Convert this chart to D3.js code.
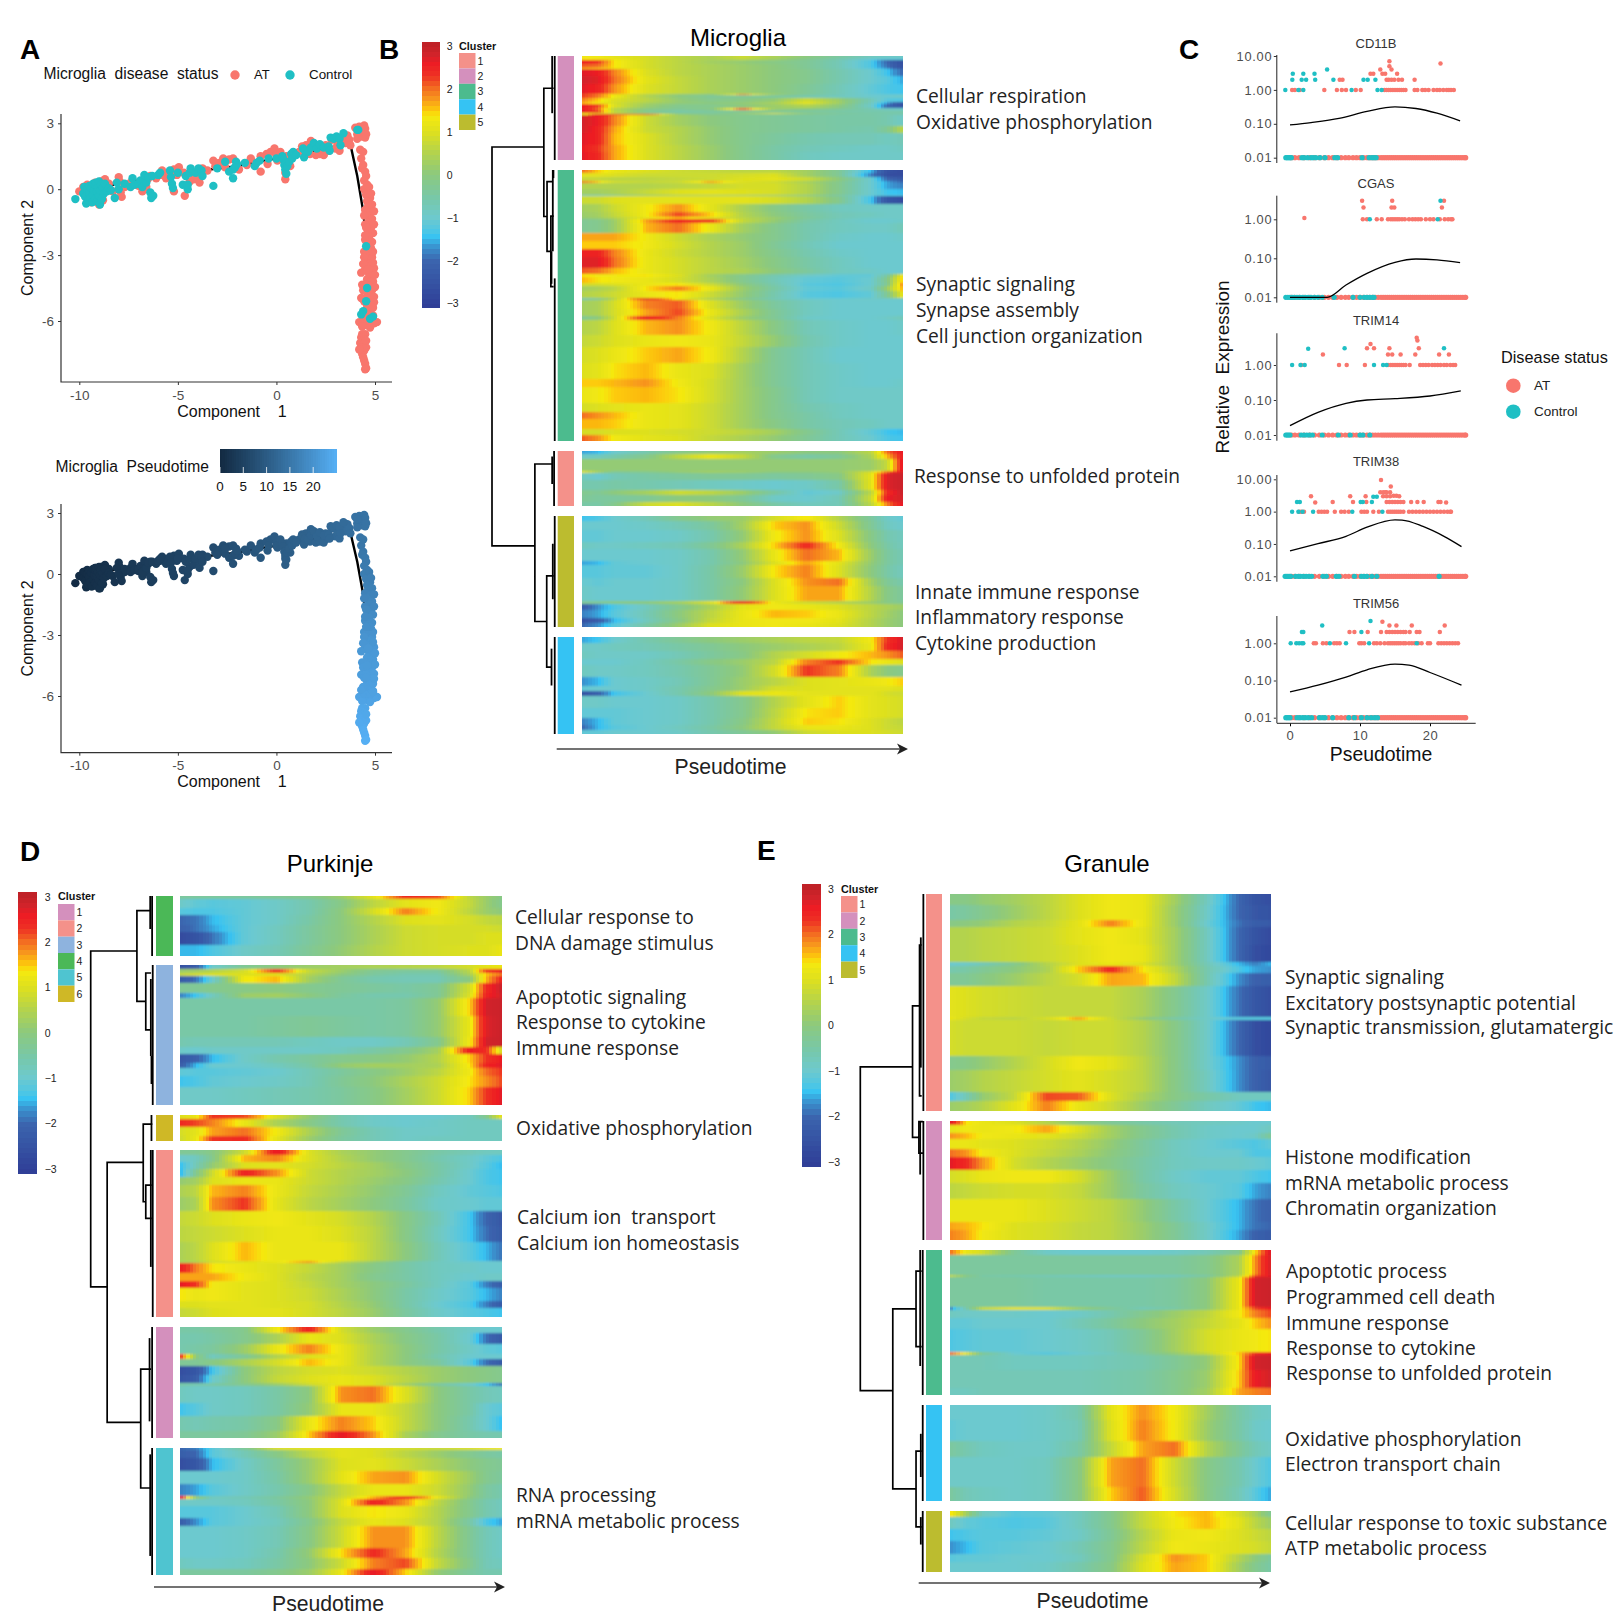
<!DOCTYPE html>
<html><head><meta charset="utf-8">
<script src="https://cdn.jsdelivr.net/npm/d3@7"></script>
<style>html,body{margin:0;padding:0;background:#fff}svg{display:block}text{font-family:"Liberation Sans",Arial,sans-serif}</style>
</head><body><svg id="fig" width="1619" height="1614" viewBox="0 0 1619 1614"></svg>
<script>
// ---------- Panel A: cells as [component1, component2, pseudotime] ----------
const cellsAT=[[-10,-.1,.3],[-9.8,.1,.5],[-9.6,.2,.8],[-9.4,-.6,.9],[-9.2,.3,1.1],[-9,-.7,1.2],[-8.9,.35,1.4],[-8.8,-.5,1.4],[-8.7,.45,1.5],[-8.5,.25,1.7],[-8.3,-.1,1.9],[-8,.55,2.2],[-7.95,.35,2.3],[-7.9,-.15,2.3],[-7.85,-.35,2.4],[-7.7,.1,2.5],[-7.4,.3,2.8],[-7,.15,3],[-6.8,-.1,3.3],[-6.6,.1,3.5],[-6.5,.5,3.5],[-6.4,.6,3.6],[-6.1,.5,3.9],[-5.9,.65,4],[-5.8,.85,4.1],[-5.6,.5,4.3],[-5.5,.65,4.4],[-5.2,.9,4.7],[-5.2,-.1,4.7],[-5.05,.65,4.9],[-4.95,1,4.9],[-4.7,.75,5.2],[-4.65,-.3,5.2],[-4.4,.35,5.4],[-4.2,.45,5.6],[-3.9,.6,5.9],[-3.9,.3,5.9],[-3.75,.95,6],[-3.5,.85,6.3],[-3.1,1.05,6.6],[-3.2,1.3,6.5],[-2.9,1.2,6.9],[-2.7,1.4,7],[-2.6,1,7.1],[-2.4,1.35,7.3],[-2.2,1.4,7.5],[-2,1.05,7.7],[-1.9,.9,7.8],[-1.5,1.1,8.2],[-1.3,1.4,8.4],[-1.05,1.2,8.6],[-.8,1.5,8.9],[-.8,.8,8.9],[-.5,1.6,9.1],[-.45,1.15,9.2],[-.3,1.7,9.3],[-.1,1.85,9.5],[0,1.55,9.6],[.05,1.3,9.7],[.2,1.7,9.8],[.45,.45,10],[.45,.75,10],[.5,1.5,10.1],[.7,1.05,10.3],[.9,1.6,10.5],[1.15,1.7,10.7],[1.3,1.95,10.8],[1.5,2,11],[1.7,1.6,11.2],[1.75,2.2,11.2],[2,1.55,11.4],[2.2,1.6,11.6],[2.4,1.55,11.7],[2.5,2,11.8],[2.65,1.75,12],[2.8,2.25,12.1],[3,1.85,12.3],[3.1,2.05,12.4],[3.2,1.75,12.5],[3.35,2.3,12.6],[3.5,2.1,12.8],[3.6,2.45,12.9],[3.7,2.25,13],[3.75,2,13.1],[4,2.8,14],[4.1,2.5,14],[4.2,2.85,14],[4.3,2.4,14.1],[4.4,2.6,14.1],[4.45,2.9,14.1],[4.5,2.35,14.2],[4.5,2.75,14.2],[4.55,2.5,14.2],[4.1,2.3,14],[4.25,1.8,14.5],[4.3,1.4,14.7],[4.4,1.7,14.6],[4.4,1.1,14.9],[4.35,.95,15],[4.5,.8,15.2],[4.55,.6,15.4],[4.45,.4,15.5],[4.6,.2,15.7],[4.45,0,15.9],[4.65,-.1,16],[4.55,-.25,16.2],[4.75,-.4,16.3],[4.6,-.55,16.4],[4.85,-.7,16.6],[4.65,-.8,16.7],[4.5,-.95,16.9],[4.75,-1.05,17.1],[4.6,-1.2,17.3],[4.85,-1.35,17.5],[4.7,-1.5,17.7],[4.5,-1.6,17.8],[4.8,-1.75,18],[4.65,-1.9,18.2],[4.9,-2,18.4],[4.7,-2.15,18.6],[4.5,-2.3,18.8],[4.85,-2.4,18.9],[4.65,-2.5,19],[4.8,-2.7,19.4],[4.45,-2.85,19.6],[4.7,-2.95,19.8],[4.85,-3.1,20.1],[4.6,-3.25,20.3],[4.75,-3.4,20.4],[4.95,-3.6,20.6],[4.5,-3.65,20.6],[4.3,-3.8,20.7],[4.7,-3.85,20.8],[4.85,-3.95,20.9],[4.6,-4.1,21],[4.8,-4.2,21],[4.35,-4.35,21.1],[4.5,-4.35,21.1],[4.7,-4.5,21.2],[4.85,-4.6,21.3],[4.6,-4.7,21.4],[4.8,-4.85,21.4],[4.3,-4.95,21.5],[4.65,-5,21.5],[4.8,-5.15,21.6],[4.6,-5.3,21.8],[4.75,-5.4,21.9],[4.55,-5.55,22],[4.7,-5.7,22.1],[4.9,-5.75,22.2],[4.6,-5.9,22.3],[5.1,-6.05,22.5],[4.2,-6.05,22.5],[4.4,-6.1,22.5],[4.8,-6.1,22.6],[4.95,-6.1,22.6],[4.6,-6.2,22.6],[4.35,-6.25,22.7],[4.5,-6.6,23.1],[4.35,-6.6,23.1],[4.3,-6.75,23.3],[4.45,-6.85,23.4],[4.25,-7,23.5],[4.4,-7.05,23.6],[4.3,-7.2,23.7],[4.45,-7.35,23.9],[4.35,-7.5,24],[4.4,-7.65,24.1],[4.45,-7.8,24.3],[4.5,-7.95,24.4],[4.55,-8.15,24.6],[4.5,-8.2,24.6],[4.45,-1.2,17.2],[4.55,-1.75,18],[4.5,-2.1,18.5],[4.55,-2.9,19.7],[4.9,-2.85,19.7],[4.55,-3.5,20.5],[4.45,-3.1,20],[4.4,-4.6,21.3],[4.5,-5.6,22],[4.45,-5.1,21.6],[4.9,-4.2,21],[4.95,-4.9,21.5],[4.9,-5.4,21.9],[4.7,-6,22.4],[4.55,-4.95,21.5],[4.7,.1,15.8],[4.8,-.2,16.2],[4.95,-1,17.1],[4.95,-1.6,17.8],[4.75,-2.6,19.2],[4.9,-3.35,20.3],[5,-3.9,20.9],[4.75,-4.4,21.1],[5,-4.45,21.2],[4.4,-3.4,20.4],[4.65,-3.65,20.7],[4.95,-5.15,21.7],[4.45,-5.9,22.3],[4.75,-6.3,22.7],[4.55,-7.2,23.7],[4.2,-7.3,23.8],[4.55,-6.9,23.4]];
const cellsControl=[[-10.2,-.45,.1],[-9.8,-.2,.5],[-9.75,.1,.5],[-9.7,-.35,.6],[-9.65,-.65,.6],[-9.6,0,.7],[-9.55,-.5,.8],[-9.5,.15,.8],[-9.5,-.15,.8],[-9.45,-.4,.9],[-9.4,.05,.9],[-9.35,-.6,1],[-9.3,.25,1],[-9.3,-.25,1],[-9.25,-.05,1.1],[-9.2,.2,1.1],[-9.2,-.45,1.1],[-9.15,.3,1.2],[-9.1,-.1,1.2],[-9.1,-.55,1.2],[-9.05,.1,1.3],[-9,.35,1.3],[-9,-.3,1.3],[-8.95,-.05,1.3],[-8.95,-.7,1.4],[-8.9,.2,1.4],[-8.85,-.45,1.4],[-8.8,.05,1.5],[-8.75,-.2,1.5],[-8.7,.25,1.5],[-8.6,-.1,1.6],[-8.5,.05,1.7],[-8.4,-.05,1.8],[-8.2,-.4,2],[-8.1,.3,2.1],[-8,0,2.2],[-7.7,.25,2.5],[-7.4,.1,2.8],[-7.3,.5,2.9],[-7.2,.2,3],[-7,.25,3.1],[-6.9,.4,3.2],[-6.8,.1,3.3],[-6.7,.65,3.4],[-6.6,.3,3.5],[-6.5,.55,3.6],[-6.4,-.15,3.7],[-6.35,-.4,3.7],[-6.25,-.3,3.8],[-6.3,.6,3.7],[-6,.65,4],[-5.9,.75,4.1],[-5.4,.85,4.6],[-5.35,.55,4.6],[-5.3,.25,4.7],[-5.25,.05,4.7],[-5,.75,5],[-4.75,.2,5.2],[-4.5,0,5.4],[-4.5,.2,5.4],[-4.6,.6,5.3],[-4.4,.75,5.5],[-4.35,.95,5.5],[-4.1,.75,5.8],[-3.95,.95,5.9],[-3.8,.85,6],[-3.75,.6,6],[-3.2,.15,6.5],[-3,.95,6.7],[-2.6,1.25,7.1],[-2.4,.8,7.3],[-2.2,.5,7.5],[-2.2,.9,7.5],[-2.1,1,7.6],[-2.05,1.25,7.7],[-2,1.15,7.7],[-1.6,1.2,8.1],[-1.1,1.05,8.6],[-1,1.2,8.7],[-.85,1.3,8.8],[-.4,1.4,9.2],[0,1.4,9.6],[.3,1.5,9.9],[.35,1.35,9.9],[.4,1.1,10],[.45,.9,10],[.5,.7,10.1],[.55,1.05,10.1],[.65,1.25,10.2],[.75,1.6,10.3],[.8,1.4,10.4],[.85,1.7,10.4],[1,1.55,10.6],[1.35,1.85,10.9],[1.4,1.45,10.9],[1.45,1.75,11],[1.6,1.7,11.1],[1.75,1.9,11.2],[1.9,2.1,11.3],[2.05,1.85,11.5],[2.2,2.05,11.6],[2.4,1.9,11.8],[2.65,1.95,12],[2.7,1.75,12],[2.75,2.35,12.1],[2.9,2.3,12.2],[3.05,2.4,12.3],[3.2,2.3,12.5],[3.4,2.55,12.7],[3.25,2,12.5],[4.15,2.7,14],[4.1,2.7,14],[4.55,-2.6,19.2],[4.6,-4.5,21.2],[4.55,-5.1,21.6],[4.4,-5.55,22],[4.3,-5.7,22.1],[4.75,-5.9,22.3],[4.9,-5.8,22.2]];
const trajectory=[[-9.5,0],[-7,.4],[-3.8,.85],[-2,1.05],[0,1.4],[3.75,2.05],[4.1,.6],[4.4,-1],[4.55,-2.3],[4.65,-3.5],[4.65,-5]];
const compXTicks=[-10,-5,0,5], compYTicks=[3,0,-3,-6], ptLegendTicks=[0,5,10,15,20];

// ---------- Panel C ----------
const pseudoXTicks=[0,10,20];
const zeroRowAT=[.2,.7,1.3,2,2.8,3.5,4.2,4.9,5.5,6.1,6.7,7.3,7.9,8.4,9,9.5,10,10.5,11,11.4,11.8,12.2,12.6,13,13.3,13.6,13.9,14.2,14.5,14.8,15.1,15.4,15.7,16,16.3,16.6,16.9,17.2,17.5,17.8,18.1,18.4,18.7,19,19.3,19.6,19.9,20.2,20.5,20.8,21.1,21.4,21.7,22,22.3,22.6,22.9,23.2,23.5,23.8,24.1,24.4,24.7,25,25.1];
const cd11bZero=[-.6,-.4,-.2,0,.2,1.7,2,2.5,3,3.3,3.7,4.3,5,6.4,6.8,10.3,11.3,11.7,12,12.3];
const cd11bControl=[[-.67,1],[.4,3],[.33,2],[1.67,2],[2.3,2],[1.9,3],[3.5,3],[3.6,2],[5.3,4],[6.2,2],[10.5,2],[11.1,2],[12.2,2],[1.9,1],[1.2,1],[8.8,1],[12.5,1],[13.1,1]];
const cd11bAT=[[.3,1],[.7,1],[1.4,1],[4.9,1],[6.7,1],[7.4,1],[8,1],[9.4,1],[10.1,1],[7.1,2],[7.5,2],[11.5,3],[11.9,3],[12.9,4],[13.2,3],[13.6,3],[14.2,7],[14.2,5],[14.5,4],[15.3,3],[17.8,2],[21.5,6],[13.8,2],[14.1,2],[14.5,2],[14.9,2],[15.5,2],[16,2],[13.5,1],[13.8,1],[14.1,1],[14.4,1],[14.7,1],[15,1],[15.3,1],[15.6,1],[15.9,1],[16.2,1],[16.5,1],[17.8,1],[18.2,1],[18.9,1],[19.3,1],[19.8,1],[20.5,1],[21,1],[21.4,1],[21.9,1],[22.4,1],[22.7,1],[23,1],[23.4,1]];
const cd11bCurve=[[0,.093],[3,.109],[7,.144],[11,.232],[15,.317],[18,.283],[21,.206],[24.3,.122]];
const cgasZero=[-.6,-.3,0,.3,.6,1,1.4,1.8,2.2,2.6,3,3.5,4,4.6,6.3,9,10,10.6,11,11.4,11.8,12];
const cgasControl=[[11.4,1],[21.1,1],[21.5,3]];
const cgasAT=[[2.05,1.08],[10.3,3],[10.5,2],[10.4,1],[11,1],[12.4,1],[13.1,1],[14,1],[14.4,1],[14.7,1],[15,1],[15.3,1],[15.6,1],[16,1],[16.4,1],[17,1],[17.5,1],[17.9,1],[18.3,1],[18.7,1],[19.4,1],[20,1],[20.5,1],[21.4,1],[22.1,1],[22.6,1],[23,1],[23.2,1],[14.6,3],[14.5,2],[14.9,2],[22,3],[21.7,2]];
const cgasCurve=[[0,.01],[5.3,.01],[8,.0207],[11,.0412],[15,.0789],[18,.096],[21,.091],[24.3,.0772]];
const trim14Zero=[-.6,-.4,-.2,0,1.6,2,2.4,2.8,3.2,4.6,6.9,8.6,10,10.4,11.4];
const trim14Control=[[.3,1],[1.5,1],[2.1,1],[2.6,2.9],[7.8,3],[12,1],[13.3,1],[13.8,1],[22,3]];
const trim14AT=[[1.6,1],[4.7,2],[7,1],[8.1,1],[10.7,1],[11,3],[11.5,4],[12,3],[14.2,3],[14,2],[14.6,2],[15.8,2],[17.9,2],[18.4,3],[18.1,6],[18.2,5],[21.3,2],[22.7,2],[14,1],[14.4,1],[14.7,1],[15,1],[15.3,1],[15.6,1],[15.9,1],[16.2,1],[16.5,1],[17.1,1],[18.6,1],[19,1],[19.4,1],[19.8,1],[20.3,1],[20.7,1],[21.1,1],[21.5,1],[22,1],[22.4,1],[22.9,1],[23.3,1],[23.6,1]];
const trim14Curve=[[0,.0185],[4,.0444],[8,.0803],[11,.1],[15,.109],[20,.13],[24.4,.181]];
const trim38Zero=[-.7,-.5,-.3,-.1,.1,.8,1.2,1.5,1.9,2.3,2.7,3.1,4.7,5.2,6.6,7,9.2,10.2,10.6,11,11.7,12.4,21.3];
const trim38Control=[[.3,1],[1.2,1],[1.8,1],[1,2],[1.4,2],[3.3,1],[8.9,1],[10.1,2],[10.4,2],[11.7,2],[11.9,2.9],[12.4,2.9],[13.2,1]];
const trim38AT=[[3,3],[3.6,1.9],[6.1,2],[8.6,3],[9,2],[10.8,3],[10.9,2],[13,9.5],[14.4,6],[12.9,4],[13.3,4],[13.6,4],[13.8,4],[14.3,4],[13.3,3],[13.8,3],[14.3,3],[14.8,3.1],[15.2,3.1],[15.6,3],[13.8,2],[14.2,2],[14.6,2],[15,2],[15.4,2],[15.8,2],[16.2,2],[17.3,2],[18.2,2],[19.1,2],[21.2,2],[21.5,2],[22.3,1.9],[1.3,1],[1.6,1],[2,1],[4.1,1],[4.5,1],[4.9,1],[5.3,1],[6.4,1],[7.3,1],[7.8,1],[8.4,1],[10.2,1],[10.6,1],[11,1],[11.9,1],[12.7,1],[14,1],[14.3,1],[14.6,1],[14.9,1],[15.2,1],[15.5,1],[15.8,1],[16.2,1],[17,1],[17.5,1],[18,1],[18.5,1],[19,1],[19.5,1],[20,1],[20.5,1],[21,1],[21.5,1],[22,1],[22.5,1],[22.9,1],[23,1]];
const trim38Curve=[[0,.061],[4,.102],[8,.172],[11,.33],[15,.556],[16,.55],[19,.348],[22,.172],[24.5,.083]];
const trim56Zero=[-.6,-.4,-.2,0,1,1.4,1.8,2.2,2.6,3.1,4.2,4.6,5,6.1,8.4,9.2,10.2,11,11.6,12.1,12.5];
const trim56Control=[[.1,1],[.9,1],[1.3,1],[1.7,1],[1.9,1],[1.7,2],[1.9,2],[4.6,3],[5.7,1],[8,1],[10.2,2],[11.5,4],[11.3,1],[18.1,1]];
const trim56AT=[[8.5,2],[9.2,2],[11.1,2],[13,2],[13.2,3.8],[14.2,3],[15.2,3],[17.4,3],[22.1,3],[21.4,2],[17.1,2],[18.1,2],[18.5,2],[13.8,2],[14.2,2],[14.6,2],[15,2],[15.4,2],[15.8,2],[16.2,2],[16.5,2],[3.4,1],[3.7,1],[4.7,1],[5.2,1],[6.3,1],[6.7,1],[7.1,1],[9.9,1],[10.2,1],[10.6,1],[12,1],[12.4,1],[12.9,1],[13.5,1],[14,1],[14.3,1],[14.6,1],[14.9,1],[15.2,1],[15.5,1],[15.8,1],[16.2,1],[16.5,1],[17,1],[17.4,1],[17.8,1],[18.3,1],[18.8,1],[19.7,1],[20,1],[21.2,1],[21.6,1],[22,1],[22.4,1],[22.8,1],[23.2,1],[23.6,1],[24,1]];
const trim56Curve=[[0,.0494],[4,.0748],[8,.123],[11,.194],[15,.276],[17,.26],[20,.164],[24.5,.0748]];

// ---------- Heatmaps: each row = [genes in band, z-score at pseudotime fractions in heatKnots] ----------
const heatKnots=[0,.05,.1,.2,.3,.4,.5,.6,.7,.8,.9,.95,1];
const microglia1=[[1.5,1.3,1.3,1.1,.9,.6,.4,.8,.4,0,-.4,-.8,-.9,-.9],[2.5,1.4,1.3,1.2,.9,.6,.4,.7,.3,-.2,-.6,-1,-1.1,-1.1],[3.5,2.6,2.3,1.4,.9,.6,.3,.1,-.1,-.3,-.7,-1.3,-2,-2.6],[3,2.1,2,1.4,.9,.6,.4,.2,0,-.3,-.7,-1.3,-1.9,-2.6],[1.5,1.5,1.4,1.2,.9,.6,.4,.2,0,-.3,-.7,-1.2,-1.6,-2.4],[6,2.7,2.6,1.9,1,.6,.4,.2,0,-.2,-.6,-1,-1.4,-2],[7,2.8,2.7,2,1.1,.7,.4,.2,0,-.2,-.6,-1,-1.2,-1.6],[9,2.7,2.5,1.8,1,.7,.4,.2,0,-.3,-.7,-1.1,-1.3,-1.4],[1,2.2,1.8,1.2,.5,0,-.1,1.9,.3,-.3,-.7,-1,-1.1,-1.1],[3,2.3,2,1.3,.5,0,-.3,-.3,-.4,-.6,-.8,-1,-1,-.9],[3,1.9,1.5,1,.6,.1,-.2,-.1,.1,.8,.2,-.7,-1.2,-1.3],[2,1.6,1.3,.9,.4,.1,0,.1,.4,1.2,.3,-.8,-1.6,-2.4],[4,2.6,2.2,1,.2,-.2,-.2,0,.2,.5,0,-.9,-2,-2.5],[1.3,2.6,2,.5,-.1,-.3,-.1,2.1,.2,0,-.3,-.6,-.9,-1],[2.5,2.7,2.2,.7,-.2,-.5,-.4,-.3,-.3,-.4,-.5,-.6,-.6,-.6],[1.2,1.1,.9,.5,.1,-.3,-.3,.2,1.1,.1,-.3,-.4,-.5,-.5],[1,.9,2.6,2.6,2.5,.2,-.3,-.3,-.3,-.4,-.5,-.6,-.6,-.6],[10,2.8,2.6,1.9,.8,.3,0,-.2,-.3,-.4,-.5,-.5,-.6,-.9],[6,2.8,2.5,1.7,.8,.5,.1,-.2,-.3,-.4,-.5,-.6,-.3,.6],[11,2.7,2.5,1.6,1,.5,.1,-.2,-.4,-.6,-.7,-.7,-.8,-.7],[6,2.6,2.3,1.7,1,.6,.2,-.2,-.5,-.7,-.8,-.9,-.9,-.8],[7.5,2.7,2.4,1.7,1,.6,.2,-.2,-.5,-.8,-.9,-.9,-.9,-.9]];
const microglia2=[[3,2,1.5,1.2,1,.8,.7,.6,.6,.3,-.3,-1.5,-2.5,-2.7],[4,1.1,1.1,1,.8,.8,.8,.9,1,.3,-.3,-1.8,-2.6,-2.7],[4,.7,.7,.6,.6,.7,.8,1,1.1,.8,0,-1,-2,-2.4],[1.2,2,1.5,.9,.7,.8,1.7,1,.8,.3,-.2,-1,-1.6,-2],[6,.5,.5,.5,.5,.6,.7,.9,.9,.5,-.2,-1,-1.6,-1.8],[6,.3,.3,.4,.7,1,1.1,1,.9,.5,-.2,-1,-1.4,-1.5],[1.5,-1,-.9,-.6,0,.2,.2,.1,0,-.3,-.6,-1,-1.2,-1.2],[7.5,.8,.8,1,1.1,1.1,1.1,1.1,.9,.5,-.2,-1.4,-2.4,-2.7],[8,.3,.4,.8,1.3,1.8,1.1,.4,-.1,-.5,-.8,-.9,-.9,-.9],[5,.2,.3,.7,1.3,2.2,1.5,.5,0,-.4,-.7,-.8,-.9,-.9],[2,.1,.2,.5,1.1,1.6,1,.6,.2,-.3,-.7,-.9,-.9,-.9],[3,-.3,-.2,.2,1.7,2.5,2.3,.7,.1,-.5,-.8,-1,-1,-.9],[10,-.3,-.2,.2,1.6,2,1.2,.3,-.2,-.6,-.8,-.9,-.9,-.7],[8,1.7,1.7,1.7,1.3,.8,.4,.1,-.2,-.6,-.9,-1,-1,-.9],[8,1.5,1.5,1.5,1.3,.9,.5,.2,-.3,-.7,-1,-1,-1,-1],[8,2.5,2.5,1.9,1.2,.8,.5,.2,-.2,-.6,-.9,-1,-1,-1],[10,2.7,2.7,2,1.2,.9,.6,.3,-.1,-.5,-.8,-1,-1,-1],[6,2.1,2,1.6,1.2,.9,.6,.4,0,-.4,-.8,-.9,-1,-1],[3,1.4,1.3,1.3,1.4,1,.3,-.2,-.6,-.9,-1.1,-1.1,-.5,1.3],[6,1.6,1.4,1.3,1.2,.9,.4,-.2,-.7,-1.1,-1.2,-1,-.2,1.6],[3,.9,.9,1,1.2,1.4,.8,0,-.6,-1.2,-1.3,-1,-.3,2],[5,.3,.4,.6,1.4,1.9,1.2,.2,-.5,-1.1,-1.2,-.9,.2,1.7],[7,.5,.6,.8,1.2,1.4,.8,.1,-.6,-1.2,-1.3,-1.1,-.3,1.2],[2,-.7,-.4,.5,2.8,1.2,.4,-.2,-.7,-1,-1,-.9,-.9,-.9],[8,.3,.4,.9,1.9,2.1,1,.2,-.4,-.8,-1,-1,-1,-1],[7,.3,.4,.9,1.7,2.2,1.2,.4,-.3,-.8,-1,-1,-1,-1],[4,-.3,0,.8,2.7,1.9,1,.2,-.3,-.9,-1,-1,-.9,-.7],[15,.5,.6,1,1.6,1.8,1.3,.6,-.1,-.7,-.9,-1,-1,-.9],[11,.7,.8,1,1.2,1.3,1.2,.7,.1,-.6,-.9,-1,-1,-1],[16,.9,1,1.2,1.5,1.7,1.3,.5,-.3,-.7,-1,-1,-1,-1],[16,1,1.1,1.4,1.6,1.2,1,.3,-.3,-.7,-.9,-1,-1,-1],[7,1.5,1.5,1.6,1.8,1.3,.9,.3,-.3,-.7,-.9,-1,-1,-.9],[16,1.2,1.3,1.5,1.6,1.4,.9,.3,-.2,-.7,-.9,-.9,-.9,-.9],[9,.9,1,1.1,1.2,1.1,.8,.3,-.2,-.6,-.8,-.9,-.9,-.9],[7,2,1.8,1.6,1.2,1.1,.8,.3,-.2,-.5,-.8,-.9,-.9,-.9],[9,1.6,1.6,1.5,1.2,1.1,.8,.3,-.1,-.5,-.7,-.8,-.9,-.9],[6,.9,.9,1,1,.9,.8,.6,.3,-.2,-.7,-1.1,-1.4,-1.5],[6,2.1,1.8,1.3,1.1,1,.7,.4,.1,-.3,-.7,-1,-1.3,-1.4]];
const microglia3=[[3,-1.6,-1.5,-1,-.6,-.2,.1,.3,.2,0,0,.6,2,2.7],[5,-.9,-.8,-.6,-.2,.6,1.2,.7,-.2,-.5,-.3,.4,1.6,2.6],[11,.1,.1,.1,.1,.1,.1,.1,.1,.1,.1,.2,.7,2.8],[2,1.2,.4,-.3,-.2,.1,.3,.2,0,0,.1,.9,2,2.8],[7,-.8,-1,-.7,-.5,-.4,-.3,-.3,-.4,-.3,-.1,1.1,2.7,2.9],[10,-.6,-.6,-.5,-.6,-.7,-.8,-.9,-1,-.9,-.5,1.1,2.7,2.9],[4,-.2,-.3,0,.3,.8,.6,.2,-.5,-1.1,-.9,.6,2.4,2.9],[7,-.3,-.4,-.4,-.3,0,0,-.3,-.9,-1,-.7,.8,2.6,2.8],[4,-.5,-.5,-.2,.8,1,.6,0,-.5,-.8,-.7,.6,1.9,2.7]];
const microglia4=[[5,-1.4,-1.3,-1,-.7,-.2,.1,.2,.9,1.4,.5,-.4,-.9,-1.1],[9,-1,-1,-1,-.9,-.7,-.4,.3,1.5,1.8,.8,-.3,-.8,-1],[12,-1.1,-1.1,-1,-1,-.9,-.6,.1,1.3,1.8,1,-.1,-.6,-.8],[6,-.8,-.9,-.9,-.8,-.7,-.3,.4,1.5,2.4,1.3,0,-.5,-.8],[12,-1,-1,-1,-1,-.9,-.6,.1,1.2,2,1.6,.2,-.4,-.7],[4,-1.6,-1.5,-1.1,-1,-.9,-.6,0,1,1.7,1.1,.1,-.4,-.7],[13,-1.2,-1.2,-1.1,-1.1,-.9,-.5,.2,1.4,1.9,1,0,-.5,-.8],[8,-1,-1.1,-1,-1,-.9,-.5,0,1,1.8,2,.3,-.3,-.6],[14,-.9,-1,-1,-1,-.9,-.5,.1,1,1.7,1.7,.5,-.1,-.4],[3,-.3,-.3,-.1,0,.3,1,2.7,1.2,.8,.5,.2,-.1,-.3],[6,-2.2,-1.7,-1.3,-.8,-.2,.4,1.1,1.3,1.2,1,.6,.4,.2],[8,-1.8,-1.6,-1.2,-.7,0,.6,1.2,1.6,1.5,1.2,.6,.3,0],[5,-2.6,-2.2,-1.5,-.8,-.1,.7,1.2,1.3,1.3,1.1,.5,.2,0],[4,-2,-1.7,-1.2,-.5,.2,1,1.2,1.3,1.2,1,.5,.2,0]];
const microglia5=[[6,-1.6,-1.4,-1,-.6,-.3,0,.2,.4,.6,.7,1.3,2.3,2.8],[8,-.9,-.9,-.8,-.7,-.5,-.3,0,.2,.4,.6,1.2,2.4,2.8],[8,-.8,-.9,-.9,-.9,-.7,-.4,-.1,.5,.9,1.3,1.6,1.8,2.1],[6,-1,-1,-1,-.8,-.5,-.1,.2,.6,1.9,2.3,1.4,1.2,1],[12,-.8,-.9,-.9,-.8,-.6,-.3,.1,.9,2.3,1.9,.4,0,-.2],[8,-1.7,-1.5,-1,-.9,-.7,-.3,.2,.6,1,1.1,1.2,1.3,1.5],[5,-1.1,-1,-1,-.9,-.6,-.2,.2,.9,1,1.1,1.1,1.1,1],[5,-2.5,-2.1,-1.4,-1,-.6,0,1,1.2,1.1,1.1,1.1,.9,.8],[12,-.9,-.9,-1,-1,-.9,-.6,-.2,.5,1.1,1.5,1.1,1,.9],[10,-1.1,-1.1,-1.1,-1,-.9,-.6,-.2,.6,1.4,1.5,1.1,1,.9],[7,-1.8,-1.5,-1.1,-1,-.9,-.6,-.1,.7,1.5,1.4,1,.8,.6],[5,-2,-1.5,-1.2,-1,-.8,-.5,0,.7,1.2,1.2,1,.8,.7],[4,-1.1,-1.1,-1,-1,-.9,-.6,-.3,.1,.8,1,1,.9,.8]];
const purkinje1=[[3,-.4,-.4,-.4,-.4,-.3,-.2,.2,1.1,2.4,2.2,.6,.2,-.1],[9,-.9,-1.1,-1.2,-1.1,-.9,-.6,-.1,.6,1.1,1.3,.7,.2,-.2],[7,-1.2,-1.3,-1.3,-1.1,-.9,-.6,0,.9,1.9,1.3,.6,.2,0],[10,-2,-1.9,-1.5,-1.1,-.9,-.5,0,.5,1,1.1,.9,.7,.6],[7,-2.1,-1.9,-1.6,-1.1,-.8,-.4,0,.4,.8,.9,.9,.9,.8],[13,-2.7,-2.5,-1.9,-1.1,-.8,-.4,0,.4,.8,.9,.9,1,1],[11,-1.5,-1.5,-1.3,-.9,-.7,-.3,.1,.5,.8,.9,1,1,1.2]];
const purkinje2=[[4,-2.6,-2.2,-1,-.3,0,.2,.3,.4,.5,.6,.9,1.1,1.2],[4,.2,.3,.5,.9,2.4,.7,.2,-.3,-.4,-.4,.6,2.3,2.7],[3,.7,.9,1,1,1,.5,0,-.4,-.6,-.6,.4,1.5,2],[7,-2.3,-1.9,-1,1.3,1.6,.3,-.3,-.6,-.7,-.7,0,1.6,2.5],[9,-.3,-.3,-.2,-.1,0,-.2,-.3,-.4,-.5,-.3,.9,2.4,2.9],[5,-1.8,-1.4,-.8,.2,.3,0,-.4,-.6,-.6,-.3,1,2.5,2.8],[18,-.5,-.5,-.5,-.5,-.5,-.5,-.5,-.5,-.4,.1,1.5,2.8,2.9],[20,-.5,-.5,-.5,-.5,-.4,-.3,-.4,-.5,-.4,.1,1.2,2.7,2.9],[10,-.6,-.7,-.7,-.7,-.7,-.8,-.9,-.9,-.7,-.2,1.3,2.8,2.9],[7,-.9,-1,-.9,-.9,-.9,-.9,-.8,-.5,-.2,.3,2.6,2.4,.8],[9,-2.4,-2.1,-1.5,-.9,-.6,-.4,-.2,-.1,.1,.5,1.5,2.3,2.6],[5,-2.2,-1.5,-1,-1,-.8,-.5,.1,.3,.3,.4,1.4,2.5,2.7],[8,-1.1,-1.2,-1.2,-1.1,-1,-.7,-.4,-.1,.2,.6,1.3,2,2.3],[10,-1.4,-1.3,-1.1,-1,-.9,-.7,-.3,0,.4,.8,1.4,1.8,2.2],[18,-.9,-.9,-.9,-.8,-.7,-.6,-.4,-.1,.3,.8,1.5,2.3,2.7]];
const purkinje3=[[4,1,1.2,2.3,2.2,1,.1,-.6,-.9,-1,-1,-.8,-.2,1.2],[8,2.4,2.2,1.9,1.2,.4,-.1,-.6,-.9,-1,-.9,-.8,-.8,-.8],[9,.9,1.1,1.7,2,1.3,.4,-.3,-.7,-.9,-.9,-.8,-.8,-.8],[5,.8,1.2,2.3,2.4,1.1,.2,-.4,-.7,-.9,-.8,-.8,-.8,-.8]];
const purkinje4=[[5,-.3,-.3,-.1,.8,2.7,1,.4,.1,-.2,-.5,-.7,-.8,-.8],[8,-1,-.8,-.2,1.6,1.9,1,.5,.1,-.2,-.6,-.9,-1.1,-1.3],[7,-1.5,-.7,.1,1,1.1,.9,.6,.3,-.1,-.5,-.9,-1.2,-1.5],[8,-1.6,-.2,.8,2.5,1.8,.8,.5,.3,0,-.5,-1,-1.3,-1.4],[8,.1,.3,1,1.2,1.2,.8,.5,.2,-.1,-.6,-1,-1.3,-1.4],[13,.4,.6,1.6,1.9,1.2,.7,.4,.1,-.3,-.8,-1.1,-1.2,-1.3],[15,.2,.4,1.8,2.3,1.1,.6,.3,0,-.4,-.9,-1,-1.1,-1.1],[15,.7,.8,1,1.2,1.3,1.1,.9,.5,-.1,-.7,-1.4,-2,-2.4],[17,.6,.7,.8,1,1.2,1.2,1,.6,-.1,-.8,-1.4,-1.9,-2.3],[20,.4,.6,1,1.6,1.2,1.2,1.2,.6,0,-.7,-1.2,-1.5,-1.9],[2,.3,.4,.8,1,1.2,1.8,.7,.1,-.5,-.8,-1,-1,-1],[10,2.6,1.9,1.4,1.2,1,.7,.3,-.1,-.5,-.8,-.9,-1,-1],[8,1.7,1.7,1.7,1.3,1,.6,.3,-.2,-.5,-.8,-1,-.9,-.9],[8,2.7,2.3,1.3,1.1,1,.7,.3,0,-.4,-.8,-1.2,-1.8,-2.2],[13,1.4,1.2,1.3,1.1,1,.8,.4,0,-.5,-.9,-1.2,-1.5,-1.8],[8,1,1,1.1,1.1,1,.9,.5,.1,-.5,-1,-1.3,-1.8,-2.3],[9,.7,.8,1,1.1,1.1,.9,.6,.2,-.4,-.9,-1.2,-1.3,-1.4]];
const purkinje5=[[6,-.5,-.5,-.4,-.2,1.3,2.5,.9,.2,-.2,-.6,-.9,-1,-1],[11,-.6,-.6,-.5,-.2,.4,1.2,1,.4,-.1,-.5,-1,-1.9,-2.3],[10,-.6,-.5,-.4,.2,1.2,1.9,1.2,.5,0,-.5,-.9,-1.1,-1.2],[4,2.4,0,-.8,-.3,.5,1,1.2,.5,0,-.6,-1,-1,-1],[7,-.3,-.3,-.1,.4,.9,1.6,1.2,.5,0,-.4,-1.2,-1.9,-2.3],[9,-2.6,-2.4,-1.4,0,.6,.9,1,.8,.5,.2,0,-.1,-.2],[8,-2.5,-2.2,-1,0,.7,1,1.2,1,.6,.2,0,-.1,-.2],[3,-.5,-.6,-.5,-.2,.2,.8,1.2,1,.3,-.4,-.9,-1.4,-1.9],[17,-.8,-.9,-.9,-.8,-.5,0,1.8,2,1,0,-.5,-.7,-.8],[12,-1.4,-1.2,-.9,-.8,-.5,.1,1.2,1.2,.7,0,-.5,-1,-1.2],[15,-.6,-.7,-.6,-.5,-.1,1.2,1.9,1.5,.7,0,-.6,-1,-1.5],[7,-.4,-.4,-.4,-.3,.2,1.5,2.7,1.8,.4,-.2,-.5,-.6,-.6]];
const purkinje6=[[2,-2,-1.8,-1.2,-.3,1,1.1,1.1,1,.9,.8,1,1.2,1.3],[8,-2.2,-2,-1.2,-.7,-.1,.6,1.1,1,.6,.2,-.2,-.4,-.5],[13,-2.6,-2.4,-1.5,-.9,-.4,.2,1,1.1,.8,.4,0,-.2,-.3],[13,-1,-1,-1,-.9,-.5,.2,1.1,1.7,1.8,.9,.2,-.2,-.4],[12,-1.8,-1.6,-1.2,-.9,-.6,-.1,.7,1.2,1.2,.8,.1,-.4,-.6],[3,2.6,.2,-.8,-.7,-.4,.1,.8,1.6,2.6,1.2,0,-.4,-.6],[7,-.9,-.9,-.9,-.8,-.5,0,1,2.5,1.8,.6,-.2,-.6,-.8],[12,-1.2,-1.2,-1.2,-1,-.7,0,1,1.4,1.2,.5,-.2,-.6,-.8],[8,-2.2,-1.7,-1.2,-1,-.8,-.2,.7,1.2,1,.5,-.5,-1.3,-1.6],[22,-1,-1,-1,-.9,-.7,-.1,.8,1.8,1.8,.6,-.3,-.7,-.9],[10,-1,-1,-1,-.9,-.6,.1,1.4,2.4,1.7,.5,-.3,-.7,-.9],[11,-.8,-.9,-.9,-.8,-.5,0,.8,1.9,2.2,.7,-.2,-.7,-.8],[6,-.4,-.4,-.4,-.4,-.2,.2,1.2,2.7,1.5,.1,-.4,-.6,-.6]];
const granule1=[[11,-.1,-.1,.1,.3,.6,1,1.3,1.2,.3,-.8,-2,-2.5,-2.6],[15,-.5,-.4,-.2,.2,.6,1,1.3,1.2,.2,-.9,-2,-2.4,-2.5],[7,-.1,0,.1,.5,.7,1.1,1.9,1.2,.2,-1,-1.9,-2.2,-2.3],[18,.5,.5,.6,.7,.8,1.1,1.3,1.1,.3,-.8,-2,-2.5,-2.7],[17,.5,.5,.6,.7,.8,1,1.3,1.2,.3,-.8,-2,-2.6,-2.8],[4,-1,-.9,-.7,-.2,.5,1,1.2,1,.3,-.7,-1.5,-1.8,-1.5],[7,-.6,-.5,-.3,0,.4,1.5,2.4,1.4,.5,-.6,-1.3,-1.6,-1.7],[13,-.3,-.3,-.1,.2,.6,.9,1.7,1.6,.7,-.6,-1.7,-2.1,-2.2],[30,1.1,1,.9,.8,.7,.7,.7,.4,-.2,-.9,-1.9,-2.4,-2.6],[3,1.2,.9,.7,.6,.9,1.7,.8,.1,-.5,-.9,-1.2,-1.2,-1.2],[36,.9,.8,.8,.8,.7,.8,.8,.5,-.1,-.9,-2,-2.6,-2.8],[14,-.2,-.1,.1,.5,.9,1.3,1.1,.6,-.1,-.9,-1.7,-2.1,-2.3],[22,.2,.3,.5,.7,.9,1.1,.9,.6,-.1,-.8,-1.7,-2.1,-2.4],[9,-1.3,-.7,.1,.7,2.2,2.1,1,.4,-.1,-.5,-.8,-.8,-.8],[10,.2,.3,.5,1.1,1.9,1.2,.8,.2,-.3,-.8,-1.1,-1.4,-1.5]];
const granule2=[[4,2.8,1.4,1.2,1,.5,0,-.3,-.5,-.7,-.8,-.9,-1,-1],[8,1.1,1.3,1.2,1.3,1.7,1,.3,-.2,-.6,-.9,-1,-1,-.8],[6,1.8,1.6,1.3,1.2,1.1,.8,.3,-.2,-.6,-.9,-1,-.9,-.3],[10,1.2,1.2,1.1,1,.8,.5,.1,-.4,-.8,-1,-1.2,-1.3,-1.1],[7,2,1.8,1.3,1,.7,.4,0,-.4,-.8,-1,-1,-1.3,-1.3],[13,2.7,2.4,1.8,.9,.5,.2,-.1,-.5,-.8,-.9,-.9,-1,-1.1],[13,.9,1,1.2,1.3,1.3,.9,.2,-.5,-.9,-1.1,-1.1,-1.3,-1.4],[16,.6,.7,.8,.9,.9,.7,.2,-.4,-.8,-1,-1.2,-1.6,-1.8],[22,1.2,1.2,1.2,1.2,1,.8,.6,.1,-.5,-1,-1.5,-1.9,-2.1],[8,1.7,1.6,1.4,1,.9,.7,.6,.2,-.3,-.9,-1.5,-1.9,-2],[10,1.9,1.7,1.3,1,.9,.7,.6,.2,-.3,-.9,-1.6,-2.1,-2.3]];
const granule3=[[5,2,1.2,.9,-.3,-.9,-1,-1,-1,-.9,-.7,-.2,1.4,2.8],[20,-.4,-.4,-.4,-.4,-.4,-.4,-.4,-.4,-.4,-.2,.4,1.8,2.8],[2,.8,0,-.5,-.6,-.7,-.8,-.9,-.9,-.8,-.5,.6,2.2,2.7],[30,-.4,-.4,-.4,-.4,-.5,-.5,-.5,-.5,-.4,0,1.2,2.8,2.9],[3,-1.8,-.6,.7,1.1,1,.2,-.3,-.7,-.5,0,1.2,2.2,2.6],[8,-.8,-.9,-.9,-.9,-1,-.9,-.6,-.2,.2,.6,1.3,1.9,2.2],[10,-1.1,-1.1,-1,-1,-1,-.7,-.4,0,.3,.7,1.1,1.5,1.8],[23,-1.3,-1.2,-1.1,-1.1,-1,-.9,-.7,-.3,.3,.9,1.2,1.3,1.4],[3,2,1.2,-.3,-1,-1.2,-1,-.8,-.4,.1,.7,1.5,2.3,2.6],[15,-.7,-.7,-.7,-.8,-.8,-.8,-.7,-.6,-.3,.1,1.4,2.8,2.9],[18,-.7,-.7,-.7,-.7,-.7,-.7,-.6,-.5,-.2,.2,1.5,2.6,2.8],[7,-.8,-.8,-.7,-.7,-.7,-.7,-.6,-.5,-.2,.3,1.7,1.9,2]];
const granule4=[[15,-1,-1,-1,-1,-.9,-.6,1.1,1.8,1.3,.3,-.5,-.8,-.9],[21,-1.1,-1,-1,-1,-.9,-.7,1,1.9,1.3,.2,-.5,-.9,-1],[15,-.4,-.6,-.8,-.9,-.9,-.5,.7,1.7,2,.5,-.3,-.7,-.9],[30,-.9,-.9,-.9,-.9,-.8,-.1,1.7,2,.8,-.1,-.6,-1,-1.3],[14,-.4,-.7,-.8,-.9,-.8,-.1,1.5,2.1,.9,-.1,-.7,-1.2,-1.6]];
const granule5=[[6,1.5,.3,-.8,-1.2,-1.1,-.8,-.2,.7,1.4,1.6,.9,.4,-.3],[12,-.8,-1.1,-1.2,-1.3,-1.2,-.8,-.2,.7,1.3,1.6,1.1,.6,.2],[12,-1.4,-1.3,-1.2,-1.2,-1.1,-.9,-.3,.5,1.2,1.3,1,.8,.6],[13,-1.7,-1.5,-1.2,-1.1,-1,-.7,-.2,.6,1.3,1.2,1,.9,.7],[8,-1.2,-1.1,-1.1,-1,-1,-.8,-.2,.9,1.8,1.5,.5,0,-.4],[10,-1,-1,-1,-1,-.9,-.6,-.1,1,1.7,1.5,.3,-.2,-.5]];

// Colour key
const zStops=[-3.1,-2,-1.7,-1.45,-1.3,-1,-.5,0,.5,1,1.37,1.5,1.75,2,2.3,2.6,2.8,3.1];
const zColors=["#2f3d96","#3b65ae","#3a8fcc","#37c3f2","#4fc6e3","#6cc9cf","#79c8a6","#8cc97e","#b3d34d","#dde01f","#f5e90f","#fdcb0a","#f89a1c","#f36f21","#ee3124","#ed1c24","#d2232a","#bc2026"];
const zTicks=[3,2,1,0,-1,-2,-3];
const clustersB=["#f4918a","#d490bd","#4cbb8e","#35c3f3","#bcbc2f"];
const clustersD=["#d490bd","#f4918a","#8eb3de","#4bb857","#4fc4d0","#cfb826"];
const clustersE=["#f4918a","#d490bd","#4cbb8e","#35c3f3","#bcbc2f"];

// Dendrograms: node {h,kids,at}; leaf {b: heat block, f: position inside block, h}
const treeB={h:1,kids:[{h:.19,at:[0,.875],kids:[{b:0,f:.31,h:.05},{h:.14,kids:[{b:1,f:.043,h:.06},{h:.08,kids:[{b:1,f:.17,h:.05},{b:1,f:.43,h:.05}]}]}]},{h:.33,at:[3,.27],kids:[{b:2,f:.236,h:.07},{h:.145,kids:[{b:3,f:.54,h:.05},{b:4,f:.31,h:.08}]}]}]};
const trunksB=[[0,0,.55,.06],[0,0,1,.02],[1,0,.3,.05],[1,.3,.42,.07],[1,.4,1,.02],[1,0,.03,.04],[2,0,1,.03],[2,.1,.6,.06],[3,0,1,.02],[3,.25,.75,.05],[4,0,1,.02],[4,.12,.5,.07]];
const treeD={h:1,kids:[{h:.27,at:[1,-.1],kids:[{b:0,f:.245,h:.06},{h:.13,kids:[{b:1,f:.057,h:.06},{b:1,f:.464,h:.06}]}]},{h:.74,at:[3,.82],kids:[{h:.17,at:[3,.074],kids:[{b:2,f:.35,h:.04},{h:.13,kids:[{b:3,f:.21,h:.05},{b:3,f:.41,h:.05}]}]},{h:.21,at:[4,.86],kids:[{b:4,f:.38,h:.06},{b:5,f:.315,h:.06}]}]}]};
const trunksD=[[0,0,1,.03],[0,0,.55,.06],[1,0,1,.02],[1,.1,.65,.05],[1,.65,.85,.04],[2,0,1,.04],[3,0,1,.02],[3,0,.7,.05],[4,0,1,.03],[4,.1,.85,.07],[5,0,1,.03],[5,.05,.85,.06]];
const treeE={h:1,kids:[{h:.18,at:[0,.797],kids:[{h:.07,at:[0,.516],kids:[{b:0,f:.235,h:.05},{b:0,f:.93,h:.05}]},{h:.08,kids:[{b:1,f:.006,h:.03},{b:1,f:.27,h:.03}]}]},{h:.49,at:[2,.97],kids:[{h:.125,kids:[{b:2,f:.145,h:.05},{b:2,f:.667,h:.05}]},{h:.125,kids:[{b:3,f:.48,h:.05},{b:4,f:.26,h:.05}]}]}]};
const trunksE=[[0,0,1,.01],[0,.2,.8,.05],[1,0,1,.01],[1,0,.45,.06],[2,0,1,.02],[2,0,.8,.06],[3,0,1,.02],[3,.3,.75,.05],[4,0,1,.02],[4,.1,.55,.05]];

// Text
const termsB=[[["Cellular respiration",98],["Oxidative phosphorylation",124]],[["Synaptic signaling",286],["Synapse assembly",312],["Cell junction organization",337.5]],[["Response to unfolded protein",478]],[["Innate immune response",593.5],["Inflammatory response",619],["Cytokine production",645]]];
const termsD=[["Cellular response to",515,919],["DNA damage stimulus",515,945],["Apoptotic signaling",516,999],["Response to cytokine",516,1024],["Immune response",516,1050],["Oxidative phosphorylation",516,1130],["Calcium ion  transport",517,1219],["Calcium ion homeostasis",517,1245],["RNA processing",516,1497],["mRNA metabolic process",516,1523]];
const termsE=[["Synaptic signaling",1285,979],["Excitatory postsynaptic potential",1285,1004.5],["Synaptic transmission, glutamatergic",1285,1029],["Histone modification",1285,1159],["mRNA metabolic process",1285,1185],["Chromatin organization",1285,1210],["Apoptotic process",1286,1273],["Programmed cell death",1286,1299],["Immune response",1286,1324.5],["Response to cytokine",1286,1350],["Response to unfolded protein",1286,1375],["Oxidative phosphorylation",1285,1441],["Electron transport chain",1285,1466],["Cellular response to toxic substance",1285,1525],["ATP metabolic process",1285,1550]];

// ====================================================================
const svg=d3.select("#fig");
const defs=svg.append("defs");
defs.append("filter").attr("id","rowSoften").attr("x","-2%").attr("width","104%").attr("y","-25%").attr("height","150%").append("feGaussianBlur").attr("stdDeviation","0 1");
const AT="#F8766D",CTRL="#1FBFC4",TERM_FONT='"Open Sans",sans-serif',GREY="#4d4d4d";
const txt=(x,y,s,size,o={})=>svg.append("text").attr("x",x).attr("y",y).attr("font-size",size).attr("fill",o.fill||"#111").attr("text-anchor",o.anchor||"start").attr("dominant-baseline",o.base||"auto").attr("font-weight",o.weight||"normal").style("font-family",o.family||null).attr("xml:space","preserve").style("white-space","pre").text(s);

[["A",20,59],["B",379,59],["C",1179,59],["D",20,861],["E",757,860]].forEach(d=>txt(d[1],d[2],d[0],28,{weight:"bold",fill:"#000"}));

// ---- panel A ----
const ptColor=d3.scaleLinear().domain([0,25]).range(["#132B43","#56B1F7"]).interpolate(d3.interpolateLab);
const compX=d3.scaleLinear().domain([-10,5]).range([79.3,375]);
function scatter(top,bottom,y3,yM6,colorFn,xLab){
  const y=d3.scaleLinear().domain([3,-6]).range([y3,yM6]);
  const g=svg.append("g");
  const line=d3.line().x(d=>compX(d[0])).y(d=>y(d[1]));
  g.append("path").attr("d",line(trajectory)).attr("fill","none").attr("stroke","#000").attr("stroke-width",2.4);
  const draw=(data,fn)=>g.append("g").selectAll("circle").data(data).join("circle").attr("cx",d=>compX(d[0])).attr("cy",d=>y(d[1])).attr("r",4.2).attr("fill",fn);
  colorFn(draw);
  const ax=svg.append("g").attr("transform",`translate(0,${bottom})`).call(d3.axisBottom(compX).tickValues(compXTicks).tickFormat(String).tickSize(3).tickPadding(5));
  ax.select(".domain").remove();
  const ay=svg.append("g").attr("transform","translate(61,0)").call(d3.axisLeft(y).tickValues(compYTicks).tickFormat(String).tickSize(3).tickPadding(4));
  ay.select(".domain").remove();
  [ax,ay].forEach(a=>{a.selectAll("text").attr("font-size",13.5).attr("fill",GREY).style("font-family",'"Liberation Sans"');a.selectAll("line").attr("stroke","#333");});
  svg.append("path").attr("d",`M61,${top}V${bottom}H392`).attr("fill","none").attr("stroke","#333").attr("stroke-width",1.2);
  txt(232,xLab,"Component    1",16,{anchor:"middle"});
  txt(0,0,"Component 2",16,{anchor:"middle"}).attr("transform",`translate(33,${(top+bottom)/2}) rotate(-90)`);
}
scatter(114,382,123.3,321,draw=>{draw(cellsAT,AT);draw(cellsControl,CTRL);},416.5);
scatter(504,752.7,513,696,draw=>{draw(cellsAT.concat(cellsControl),d=>ptColor(d[2]));},786.5);
txt(43.5,79,"Microglia  disease  status",15.6);
svg.append("circle").attr("cx",235).attr("cy",75).attr("r",4.7).attr("fill",AT);
txt(254,79,"AT",13);
svg.append("circle").attr("cx",290).attr("cy",75).attr("r",4.7).attr("fill",CTRL);
txt(309,79,"Control",13.4);
txt(55.5,472,"Microglia  Pseudotime",15.6);
const ptLegend=d3.scaleLinear().domain([0,24.9]).range([220,336]);
svg.append("g").attr("shape-rendering","crispEdges").selectAll("rect").data(d3.range(0,24.9,.5)).join("rect").attr("x",d=>ptLegend(d)).attr("y",449).attr("width",3).attr("height",24).attr("fill",d=>ptColor(d));
svg.append("g").selectAll("line").data(ptLegendTicks).join("line").attr("x1",d=>ptLegend(d)).attr("x2",d=>ptLegend(d)).attr("y1",467).attr("y2",473).attr("stroke","#fff").attr("stroke-width",.8);
ptLegendTicks.forEach(t=>txt(ptLegend(t),490.5,String(t),13.4,{anchor:"middle"}));

// ---- heatmaps ----
const zColor=d3.scaleLinear().domain(zStops).range(zColors);
const cols=d3.range(100);
function colourKey(x0,y0,y1,x1,yFor3,yForM3,labelX,cx,cy,swTop,swBot,clusters){
  const v=d3.scaleLinear().domain([3,-3]).range([yFor3,yForM3]);
  const steps=d3.range(-3.1,3.1,.115);
  svg.append("g").selectAll("rect").data(steps).join("rect").attr("x",x0).attr("width",x1-x0).attr("y",d=>Math.max(y0,v(d+.115))).attr("height",d=>Math.min(y1,v(d))-Math.max(y0,v(d+.115))+.5).attr("fill",d=>zColor(d+.05)).attr("shape-rendering","crispEdges");
  zTicks.forEach(t=>txt(labelX,v(t)+1,t<0?"\u2212"+(-t):String(t),10.5,{base:"middle",fill:"#222"}));
  txt(cx,cy+.8,"Cluster",10.8,{weight:"bold",base:"middle",fill:"#111"});
  const sw=d3.scaleBand().domain(clusters.map((c,i)=>i)).range([swTop,swBot]);
  svg.append("g").selectAll("rect").data(clusters).join("rect").attr("x",cx).attr("width",16.5).attr("y",(d,i)=>sw(i)).attr("height",sw.bandwidth()).attr("fill",d=>d);
  clusters.forEach((c,i)=>txt(cx+18.5,sw(i)+sw.bandwidth()/2+1.2,String(i+1),10.5,{base:"middle",fill:"#222"}));
}
let clipId=0;
function heatPanel(cfg){
  cfg.blocks.forEach(b=>{
    const rowsTotal=d3.sum(b.rows,r=>r[0]);
    const y=d3.scaleLinear().domain([0,rowsTotal]).range([b.y0,b.y1]);
    const x=d3.scaleLinear().domain([0,100]).range([cfg.x0,cfg.x1]);
    svg.append("rect").attr("x",cfg.sideX0).attr("width",cfg.sideX1-cfg.sideX0).attr("y",b.y0).attr("height",b.y1-b.y0).attr("fill",cfg.clusters[b.cluster]);
    const id="hc"+(clipId++);
    defs.append("clipPath").attr("id",id).append("rect").attr("x",cfg.x0).attr("y",b.y0).attr("width",cfg.x1-cfg.x0).attr("height",b.y1-b.y0);
    const g=svg.append("g").attr("clip-path",`url(#${id})`).append("g").attr("filter","url(#rowSoften)").attr("shape-rendering","crispEdges");
    let acc=0;
    b.rows.forEach((r,ri)=>{
      const prof=d3.scaleLinear().domain(heatKnots).range(r.slice(1));
      const a=acc;acc+=r[0];
      const top=ri===0?b.y0-7:y(a), bot=ri===b.rows.length-1?b.y1+7:y(a+r[0]);
      g.append("g").selectAll("rect").data(cols).join("rect")
        .attr("x",c=>x(c)).attr("width",x(1)-x(0)+.4).attr("y",top).attr("height",bot-top+.3)
        .attr("fill",c=>zColor(prof((c+.5)/100)));
    });
  });
  // dendrogram
  const h=d3.scaleLinear().domain([0,1]).range(cfg.dendro);
  const blockY=(bi,f)=>{const b=cfg.blocks[bi];return b.y0+f*(b.y1-b.y0);};
  const root=d3.hierarchy(cfg.tree,d=>d.kids);
  root.eachAfter(n=>{n.py=n.data.at?blockY(n.data.at[0],n.data.at[1]):n.children?d3.mean(n.children,c=>c.py):blockY(n.data.b,n.data.f);});
  const dg=svg.append("g").attr("fill","none").attr("stroke","#000");
  const p=d3.path();
  root.descendants().filter(n=>n.children).forEach(n=>{
    const xx=h(n.data.h);
    n.children.forEach(c=>{p.moveTo(xx,n.py);p.lineTo(xx,c.py);p.lineTo(h(c.data.h),c.py);});
  });
  dg.append("path").attr("d",p.toString()).attr("stroke-width",1.7).attr("stroke-linecap","square");
  dg.selectAll("line").data(cfg.trunks).join("line").attr("x1",d=>h(d[3])).attr("x2",d=>h(d[3])).attr("y1",d=>blockY(d[0],d[1])).attr("y2",d=>blockY(d[0],d[2])).attr("stroke-width",1.8);
  // arrow + labels
  const [ax0,ax1,ay,lx,ly]=cfg.arrow;
  svg.append("line").attr("x1",ax0).attr("x2",ax1-4).attr("y1",ay).attr("y2",ay).attr("stroke","#444").attr("stroke-width",1.3);
  svg.append("path").attr("d",`M${ax1},${ay}L${ax1-11},${ay-5.5}L${ax1-8},${ay}L${ax1-11},${ay+5.5}Z`).attr("fill","#222");
  txt(lx,ly,"Pseudotime",21.2,{anchor:"middle",fill:"#222"});
  txt(cfg.title[1],cfg.title[2],cfg.title[0],24,{anchor:"middle",fill:"#000"});
}
heatPanel({x0:582,x1:903,sideX0:557.7,sideX1:574,clusters:clustersB,dendro:[556,492],tree:treeB,trunks:trunksB,arrow:[556.7,908,749,730.5,774],title:["Microglia",738,46],
 blocks:[{rows:microglia1,y0:56,y1:160,cluster:1},{rows:microglia2,y0:170,y1:441,cluster:2},{rows:microglia3,y0:451,y1:506,cluster:0},{rows:microglia4,y0:516,y1:627,cluster:4},{rows:microglia5,y0:637,y1:734,cluster:3}]});
heatPanel({x0:180,x1:502,sideX0:156,sideX1:173,clusters:clustersD,dendro:[154,90.7],tree:treeD,trunks:trunksD,arrow:[154,505,1587,328,1611],title:["Purkinje",330,872],
 blocks:[{rows:purkinje1,y0:896,y1:956,cluster:3},{rows:purkinje2,y0:965,y1:1105,cluster:2},{rows:purkinje3,y0:1115,y1:1141,cluster:5},{rows:purkinje4,y0:1150,y1:1317,cluster:1},{rows:purkinje5,y0:1327,y1:1438,cluster:0},{rows:purkinje6,y0:1448,y1:1575,cluster:4}]});
heatPanel({x0:950,x1:1271,sideX0:926,sideX1:942,clusters:clustersE,dendro:[924,860.3],tree:treeE,trunks:trunksE,arrow:[918.7,1270,1583,1092.5,1608],title:["Granule",1107,872],
 blocks:[{rows:granule1,y0:894,y1:1111,cluster:0},{rows:granule2,y0:1121,y1:1240,cluster:1},{rows:granule3,y0:1250,y1:1395,cluster:2},{rows:granule4,y0:1405,y1:1501,cluster:3},{rows:granule5,y0:1511,y1:1572,cluster:4}]});
colourKey(422,42,308,440,46,303.7,446.7,459,46,53,130,clustersB);
colourKey(18,892,1173.7,37,897,1169,44.7,58,896,904,1002,clustersD);
colourKey(802,884,1166,821,889,1162,828,841,889,896,978,clustersE);

const term=(x,y,s)=>txt(x,y,s,19.2,{base:"middle",fill:"#222",family:TERM_FONT});
termsB[0].concat(termsB[1]).forEach(d=>term(916,d[1],d[0]));
termsB[2].forEach(d=>term(914,d[1],d[0]));
termsB[3].forEach(d=>term(915,d[1],d[0]));
termsD.concat(termsE).forEach(d=>term(d[1],d[2],d[0]));

// ---- panel C ----
const tScale=d3.scaleLinear().domain([0,20]).range([1290,1430]);
const facets=[
 {name:"CD11B",titleY:44.5,ticks:[10,1,.1,.01],dom:[.01,10],rng:[157.7,56],top:55,bot:163,zero:cd11bZero,ctrl:cd11bControl,at:cd11bAT,curve:cd11bCurve,line:"#222",lw:1},
 {name:"CGAS",titleY:184.5,ticks:[1,.1,.01],dom:[.01,1],rng:[297.3,219.3],top:195.7,bot:302.7,zero:cgasZero,ctrl:cgasControl,at:cgasAT,curve:cgasCurve,line:"#222",lw:1},
 {name:"TRIM14",titleY:322,ticks:[1,.1,.01],dom:[.01,1],rng:[435,365],top:333.3,bot:440.7,zero:trim14Zero,ctrl:trim14Control,at:trim14AT,curve:trim14Curve,line:"#777",lw:1.6},
 {name:"TRIM38",titleY:462.8,ticks:[10,1,.1,.01],dom:[.01,10],rng:[576.3,479.3],top:475,bot:581.7,zero:trim38Zero,ctrl:trim38Control,at:trim38AT,curve:trim38Curve,line:"#777",lw:1.6},
 {name:"TRIM56",titleY:604.5,ticks:[1,.1,.01],dom:[.01,1],rng:[717.7,643.3],top:616,bot:723.3,zero:trim56Zero,ctrl:trim56Control,at:trim56AT,curve:trim56Curve,line:"#777",lw:1.6}];
facets.forEach(f=>{
  const y=d3.scaleLog().domain(f.dom).range(f.rng);
  const g=svg.append("g");
  const dots=(data,color,r)=>g.append("g").selectAll("circle").data(data).join("circle").attr("cx",d=>tScale(d[0])).attr("cy",d=>y(d[1])).attr("r",r).attr("fill",color);
  dots(zeroRowAT.map(t=>[t,.01]),AT,2.6);
  dots(f.zero.map(t=>[t,.01]),CTRL,2.6);
  dots(f.at,AT,2.25);
  dots(f.ctrl,CTRL,2.25);
  const line=d3.line().x(d=>tScale(d[0])).y(d=>y(d[1])).curve(d3.curveMonotoneX);
  g.append("path").attr("d",line(f.curve)).attr("fill","none").attr("stroke","#000").attr("stroke-width",1.3);
  const ay=svg.append("g").attr("transform","translate(1276.8,0)").call(d3.axisLeft(y).tickValues(f.ticks).tickFormat(d3.format(".2f")).tickSize(3).tickPadding(1.5));
  ay.select(".domain").remove();
  ay.selectAll("text").attr("font-size",12.8).attr("fill",GREY).style("font-family",'"Liberation Sans"').style("letter-spacing","0.75px");
  ay.selectAll("line").attr("stroke","#333");
  svg.append("line").attr("x1",1276.8).attr("x2",1276.8).attr("y1",f.top).attr("y2",f.bot).attr("stroke",f.line).attr("stroke-width",f.lw);
  txt(1376,f.titleY,f.name,13,{anchor:"middle",base:"middle",fill:"#333"});
});
const axC=svg.append("g").attr("transform","translate(0,723.3)").call(d3.axisBottom(tScale).tickValues(pseudoXTicks).tickFormat(String).tickSize(3).tickPadding(4));
axC.select(".domain").remove();
axC.selectAll("text").attr("font-size",13).attr("fill",GREY).style("font-family",'"Liberation Sans"').style("letter-spacing","0.6px");
svg.append("line").attr("x1",1277).attr("x2",1475.7).attr("y1",723.3).attr("y2",723.3).attr("stroke","#222").attr("stroke-width",1);
txt(1381,761,"Pseudotime",19.4,{anchor:"middle",fill:"#111"});
txt(0,0,"Relative  Expression",19,{anchor:"middle",fill:"#111"}).attr("transform","translate(1229,367) rotate(-90)");
txt(1501,363,"Disease status",16.3,{fill:"#111"});
[["AT",385.7,AT],["Control",411.7,CTRL]].forEach(d=>{
  svg.append("circle").attr("cx",1513.3).attr("cy",d[1]).attr("r",7.3).attr("fill",d[2]);
  txt(1534,d[1]+4.5,d[0],13.5,{fill:"#222"});
});
</script></body></html>
